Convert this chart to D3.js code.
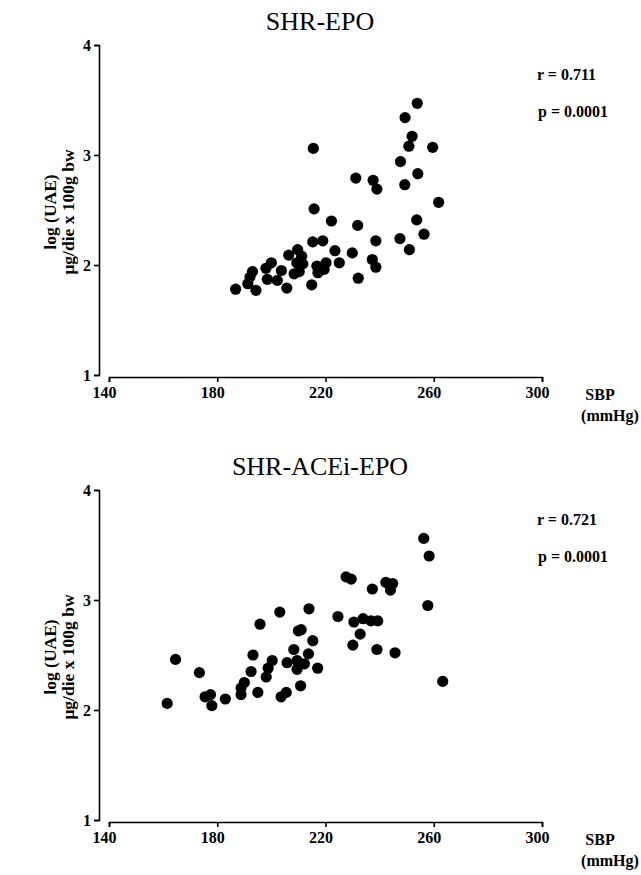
<!DOCTYPE html>
<html>
<head>
<meta charset="utf-8">
<script src="https://cdn.jsdelivr.net/npm/d3@7"></script>
<style>
  body { margin: 0; background: #fff; }
  svg text { font-family: "Liberation Serif", "DejaVu Serif", serif; fill: #000; }
  .axis path, .axis line { stroke: #000; stroke-width: 1.6; }
  .axis text { font-size: 16px; font-weight: bold; }
  .bold { font-size: 16px; font-weight: bold; }
</style>
</head>
<body>
<script>
// setup
const WIDTH = 641;
const HEIGHT = 875;
const DOT_RADIUS = 5.6;

const x_ticks = [140, 180, 220, 260, 300];
const y_ticks = [1, 2, 3, 4];

// SHR-EPO
const epo_sbp = [215.5, 215.8, 215.3, 209.7, 211.2, 206.4, 209.4, 211.6, 200.0, 198.0,
    203.7, 193.0, 192.1, 208.4, 210.3, 216.8, 219.5, 220.2, 217.2, 198.5,
    202.2, 191.3, 186.8, 194.3, 205.7, 214.9,
    253.9, 249.4, 252.0, 250.8, 259.6, 247.7, 254.1, 249.3, 231.2, 237.6,
    239.0, 261.8, 222.2, 231.9, 253.7, 256.4, 247.5, 251.0, 238.6, 219.0,
    223.5, 229.9, 225.1, 237.3, 238.6, 232.1];
const epo_uae = [3.06, 2.51, 2.21, 2.14, 2.08, 2.09, 2.02, 2.01, 2.02, 1.97,
    1.95, 1.94, 1.89, 1.92, 1.94, 1.99, 1.96, 2.02, 1.93, 1.87,
    1.86, 1.83, 1.78, 1.77, 1.79, 1.82,
    3.47, 3.34, 3.17, 3.08, 3.07, 2.94, 2.83, 2.73, 2.79, 2.77,
    2.69, 2.57, 2.40, 2.36, 2.41, 2.28, 2.24, 2.14, 2.22, 2.22,
    2.13, 2.11, 2.02, 2.05, 1.98, 1.88];

// SHR-ACEi-EPO
const ace_sbp = [203.1, 195.8, 164.6, 173.4, 193.2, 200.3, 198.8, 198.1, 192.5, 190.0,
    188.8, 188.8, 195.0, 205.5, 203.6, 208.3, 205.8,
    175.5, 177.5, 178.0, 183.0, 161.5,
    256.3, 258.3, 227.6, 229.5, 242.3, 244.8, 244.0, 237.3, 257.8, 213.9,
    224.6, 230.5, 233.9, 236.8, 239.3, 232.8, 230.1, 239.0, 245.7, 263.3,
    210.0, 211.0, 215.3, 213.7, 209.5, 212.2, 209.5, 217.1, 210.8];
const ace_uae = [2.89, 2.78, 2.46, 2.34, 2.50, 2.45, 2.38, 2.30, 2.35, 2.25,
    2.20, 2.14, 2.16, 2.16, 2.12, 2.55, 2.43,
    2.12, 2.14, 2.04, 2.10, 2.06,
    3.56, 3.40, 3.21, 3.19, 3.16, 3.15, 3.09, 3.10, 2.95, 2.92,
    2.85, 2.80, 2.83, 2.81, 2.81, 2.69, 2.59, 2.55, 2.52, 2.26,
    2.72, 2.73, 2.63, 2.51, 2.45, 2.42, 2.37, 2.38, 2.22];

const panels = [
    {title: "SHR-EPO", sbp: epo_sbp, uae: epo_uae, r: "r = 0.711", p: "p = 0.0001", top: 0},
    {title: "SHR-ACEi-EPO", sbp: ace_sbp, uae: ace_uae, r: "r = 0.721", p: "p = 0.0001", top: 445}
];

const svg = d3.select("body").append("svg")
    .attr("width", WIDTH)
    .attr("height", HEIGHT);

const draw_panel = function (panel) {

    const g = svg.append("g")
        .attr("transform", "translate(0," + panel.top + ")");

    const x = d3.scaleLinear().domain([140, 300]).range([109, 542]);
    const y = d3.scaleLinear().domain([1, 4]).range([375, 45]);

    g.append("text")
        .attr("x", 320)
        .attr("y", 30)
        .attr("text-anchor", "middle")
        .style("font-size", "26px")
        .text(panel.title);

    // y axis, ends marked by the outer ticks
    g.append("g")
        .attr("class", "axis")
        .attr("transform", "translate(99,0)")
        .call(d3.axisLeft(y).tickValues(y_ticks).tickFormat(d3.format("d"))
            .tickSizeInner(5).tickSizeOuter(5).tickPadding(3));

    // x axis, set off below the y axis
    const x_axis = g.append("g")
        .attr("class", "axis")
        .attr("transform", "translate(0,377)")
        .call(d3.axisBottom(x).tickValues(x_ticks)
            .tickSizeInner(5).tickSizeOuter(5).tickPadding(5));
    x_axis.selectAll("text").attr("dx", -5); // labels sit a bit left of the ticks

    g.selectAll(".axis .domain").attr("fill", "none");

    g.append("text")
        .attr("class", "bold")
        .attr("x", 600)
        .attr("y", 400)
        .attr("text-anchor", "middle")
        .text("SBP");
    g.append("text")
        .attr("class", "bold")
        .attr("x", 610)
        .attr("y", 421)
        .attr("text-anchor", "middle")
        .text("(mmHg)");

    const y_title = g.append("text")
        .attr("transform", "translate(56,212) rotate(-90)")
        .attr("text-anchor", "middle")
        .style("font-size", "17.5px").style("font-weight", "bold");
    y_title.append("tspan").attr("x", 0).attr("dy", 0).text("log (UAE)");
    y_title.append("tspan").attr("x", 0).attr("dy", 18).text("μg/die x 100g bw");

    g.append("text")
        .attr("class", "bold")
        .attr("x", 537).attr("y", 80)
        .text(panel.r);
    g.append("text")
        .attr("class", "bold")
        .attr("x", 538).attr("y", 117)
        .text(panel.p);

    g.append("g")
        .selectAll("circle")
        .data(d3.zip(panel.sbp, panel.uae))
        .join("circle")
        .attr("cx", d => x(d[0]))
        .attr("cy", d => y(d[1]))
        .attr("r", DOT_RADIUS)
        .attr("fill", "#000");
};

panels.forEach(draw_panel);
</script>
</body>
</html>
